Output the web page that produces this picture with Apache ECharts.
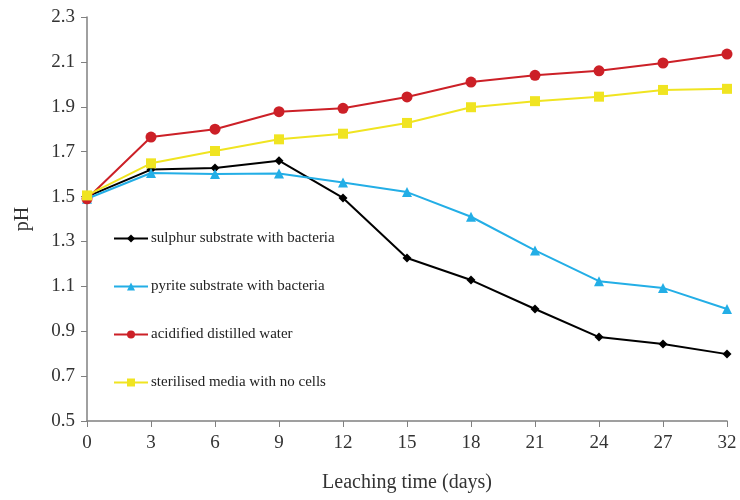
<!DOCTYPE html>
<html>
<head>
<meta charset="utf-8">
<script src="https://cdn.jsdelivr.net/npm/echarts@6/dist/echarts.min.js"></script>
<style>html,body{margin:0;padding:0;background:#fff;}#c{width:740px;height:500px;}</style>
</head>
<body>
<div id="c"></div>
<script>
const categories = ['0','3','6','9','12','15','18','21','24','27','32'];
const sulphur = [1.50,1.62,1.627,1.66,1.494,1.226,1.128,0.999,0.874,0.843,0.798];
const pyrite = [1.49,1.605,1.60,1.603,1.563,1.52,1.41,1.26,1.123,1.093,0.999];
const acidified = [1.49,1.765,1.80,1.878,1.893,1.944,2.01,2.04,2.06,2.095,2.135];
const sterilised = [1.505,1.648,1.703,1.755,1.78,1.828,1.898,1.925,1.945,1.975,1.98];
const yTicks = {min:0.5, max:2.3, interval:0.2};

const serif = '"Liberation Serif", "DejaVu Serif", serif';
const chart = echarts.init(document.getElementById('c'));
function s(name, data, color, symbol, size){
  return {name, type:'line', data, symbol, symbolSize:size,
    lineStyle:{color, width:2}, itemStyle:{color}, animation:false};
}
chart.setOption({
  backgroundColor:'#fff',
  grid:{left:87, right:13, top:17, bottom:79, containLabel:false},
  legend:{
    orient:'vertical', left:113, top:231, padding:0, itemGap:33, itemWidth:34, itemHeight:10,
    textStyle:{fontFamily:serif, fontSize:15, color:'#222', padding:[0,0,0,-2]},
    data:['sulphur substrate with bacteria','pyrite substrate with bacteria','acidified distilled water','sterilised media with no cells']
  },
  xAxis:{
    type:'category', data:categories, boundaryGap:false,
    name:'Leaching time (days)', nameLocation:'middle', nameGap:52,
    nameTextStyle:{fontFamily:serif, fontSize:20, color:'#333'},
    axisLine:{lineStyle:{color:'#808080', width:1.5}},
    axisTick:{show:true, alignWithLabel:true, length:6, lineStyle:{color:'#808080'}},
    axisLabel:{fontFamily:serif, fontSize:19, color:'#333', margin:13},
    splitLine:{show:false}
  },
  yAxis:{
    type:'value', min:yTicks.min, max:yTicks.max, interval:yTicks.interval,
    name:'pH', nameLocation:'middle', nameGap:54, nameRotate:90,
    nameTextStyle:{fontFamily:serif, fontSize:20, color:'#333'},
    axisLine:{show:true, lineStyle:{color:'#808080', width:1.5}},
    axisTick:{show:true, length:6, lineStyle:{color:'#808080'}},
    axisLabel:{fontFamily:serif, fontSize:19, color:'#333', margin:12, formatter:v=>v.toFixed(1)},
    splitLine:{show:false}
  },
  series:[
    s('sulphur substrate with bacteria', sulphur, '#000000', 'diamond', 9),
    s('pyrite substrate with bacteria', pyrite, '#23aee6', 'triangle', 10),
    s('acidified distilled water', acidified, '#cc2027', 'circle', 11),
    s('sterilised media with no cells', sterilised, '#f0e421', 'rect', 10)
  ]
});
</script>
</body>
</html>
